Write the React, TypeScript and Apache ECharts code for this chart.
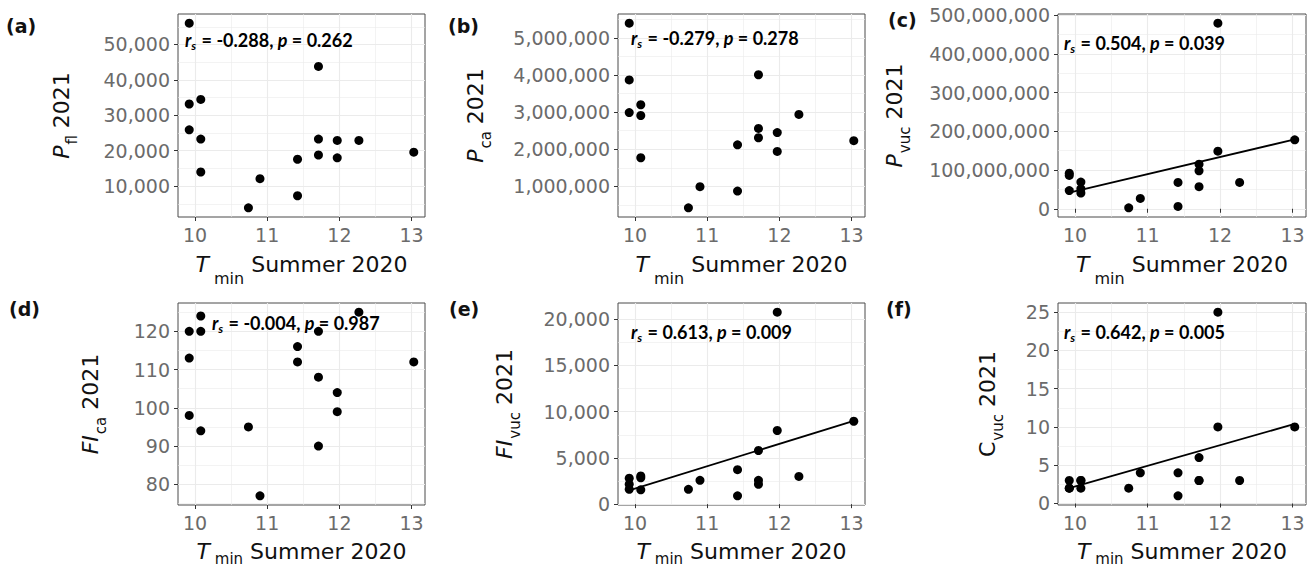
import React, { useEffect, useRef } from "react";
import * as echarts from "echarts";

// ---- data ----
const tmin = [9.92, 9.92, 9.92, 10.08, 10.08, 10.08, 10.74, 10.9, 11.42, 11.42, 11.71, 11.71, 11.71, 11.97, 11.97, 12.27, 13.03];
const pFl = [56000, 33200, 25900, 34500, 23300, 14000, 3900, 12100, 17600, 7300, 43800, 23300, 18800, 22900, 18000, 22900, 19600];
const pCa = [5400000, 3870000, 2990000, 3200000, 2910000, 1770000, 420000, 990000, 2120000, 870000, 4010000, 2560000, 2310000, 2450000, 1940000, 2940000, 2230000];
const pVuc = [92e6, 86e6, 47e6, 69e6, 51.5e6, 40.5e6, 2.6e6, 26.6e6, 68e6, 6e6, 115e6, 98e6, 57e6, 479e6, 148.6e6, 68e6, 178e6];
const fiCa = [120, 113, 98, 124, 120, 94, 95, 77, 116, 112, 120, 108, 90, 104, 99, 125, 112];
const fiVuc = [2800, 2150, 1600, 3050, 2850, 1550, 1600, 2580, 3730, 900, 5800, 2580, 2150, 20750, 7960, 3000, 8960];
const cVuc = [3, 2, 2, 3, 3, 2, 2, 4, 4, 1, 6, 3, 3, 25, 10, 3, 10];

const trendX = [9.92, 13.03];
const trendPVuc = [42e6, 179e6];
const trendFiVuc = [1500, 9000];
const trendCVuc = [2.0, 10.4];

const xTicks = [10, 11, 12, 13];
const xMinorTicks = [10.5, 11.5, 12.5];

const yTicksPFl = [10000, 20000, 30000, 40000, 50000];
const yMinorPFl = [5000, 15000, 25000, 35000, 45000, 55000];
const yTicksPCa = [1000000, 2000000, 3000000, 4000000, 5000000];
const yMinorPCa = [500000, 1500000, 2500000, 3500000, 4500000, 5500000];
const yTicksPVuc = [0, 100000000, 200000000, 300000000, 400000000, 500000000];
const yMinorPVuc = [50000000, 150000000, 250000000, 350000000, 450000000];
const yTicksFiCa = [80, 90, 100, 110, 120];
const yMinorFiCa = [75, 85, 95, 105, 115, 125];
const yTicksFiVuc = [0, 5000, 10000, 15000, 20000];
const yMinorFiVuc = [2500, 7500, 12500, 17500];
const yTicksCVuc = [0, 5, 10, 15, 20, 25];
const yMinorCVuc = [2.5, 7.5, 12.5, 17.5, 22.5];

const panelLabels = ["(a)", "(b)", "(c)", "(d)", "(e)", "(f)"];
const yTitles = [
  "{it|P}{sub|fl}{n| 2021}",
  "{it|P}{sub|ca}{n| 2021}",
  "{it|P}{sub|vuc}{n| 2021}",
  "{it|FI}{sub|ca}{n| 2021}",
  "{it|FI}{sub|vuc}{n| 2021}",
  "{n|C}{sub|vuc}{n| 2021}",
];
const xTitle = "{it|T}{sub| min}{n| Summer 2020}";
const rsValues = ["-0.288", "-0.279", "0.504", "-0.004", "0.613", "0.642"];
const pValues = ["0.262", "0.278", "0.039", "0.987", "0.009", "0.005"];

// ---- layout ----
const panels = [
  { y: pFl, ticks: yTicksPFl, minor: yMinorPFl, trend: null as number[] | null, grid: [178, 14, 247, 203], gap: 106, lab: [6, 26], ann: [185, 40], row: 0 },
  { y: pCa, ticks: yTicksPCa, minor: yMinorPCa, trend: null, grid: [618, 14, 247, 203], gap: 132, lab: [448, 26], ann: [631, 38], row: 0 },
  { y: pVuc, ticks: yTicksPVuc, minor: yMinorPVuc, trend: trendPVuc, grid: [1058, 14, 248, 203], gap: 153, lab: [888, 20], ann: [1064, 43], row: 0 },
  { y: fiCa, ticks: yTicksFiCa, minor: yMinorFiCa, trend: null, grid: [178, 303, 247, 202], gap: 77, lab: [9, 309], ann: [212, 323], row: 1 },
  { y: fiVuc, ticks: yTicksFiVuc, minor: yMinorFiVuc, trend: trendFiVuc, grid: [618, 303, 247, 202], gap: 103, lab: [449, 309], ann: [631, 332], row: 1 },
  { y: cVuc, ticks: yTicksCVuc, minor: yMinorCVuc, trend: trendCVuc, grid: [1058, 303, 248, 202], gap: 60, lab: [886, 309], ann: [1064, 332], row: 1 },
];

const FONT = "'DejaVu Sans', 'Liberation Sans', Arial, sans-serif";
const LABEL_COLOR = "#6b6b6b";
const GRID_COLOR = "#EBEBEB";

function expand(arr: number[]): [number, number] {
  const lo = Math.min(...arr);
  const hi = Math.max(...arr);
  const r = hi - lo;
  return [lo - 0.05 * r, hi + 0.05 * r];
}

const titleRichY = {
  it: { fontFamily: FONT, fontSize: 22, fontStyle: "italic", lineHeight: 22, verticalAlign: "top", color: "#111" },
  n: { fontFamily: FONT, fontSize: 22, lineHeight: 22, verticalAlign: "top", color: "#111" },
  sub: { fontFamily: FONT, fontSize: 15, lineHeight: 15, padding: [14, 0, 0, 1], verticalAlign: "top", color: "#111" },
};
const titleRichXTop = {
  it: titleRichY.it,
  n: titleRichY.n,
  sub: { fontFamily: FONT, fontSize: 16, lineHeight: 16, padding: [17, 0, 0, 0], verticalAlign: "top", color: "#111" },
};
const titleRichXBottom = {
  it: titleRichY.it,
  n: titleRichY.n,
  sub: { fontFamily: FONT, fontSize: 15, lineHeight: 14, padding: [11, 0, 0, 0], verticalAlign: "top", color: "#111" },
};

function buildOption() {
  const xr = expand(tmin);
  const grid: any[] = [];
  const xAxis: any[] = [];
  const yAxis: any[] = [];
  const series: any[] = [];
  const graphic: any[] = [];

  panels.forEach((p, i) => {
    const [left, top, width, height] = p.grid;
    grid.push({
      left, top, width, height, show: true, borderColor: "#4a4a4a", borderWidth: 1, backgroundColor: "#fff",
      containLabel: false, outerBoundsMode: "none",
    });
    const yr = expand(p.trend ? p.y.concat(p.trend) : p.y);

    xAxis.push({
      gridIndex: i, type: "value", min: xr[0], max: xr[1], position: "bottom",
      axisLine: { show: false },
      axisTick: { show: true, length: 4, lineStyle: { color: "#333", width: 1 }, customValues: xTicks },
      axisLabel: { customValues: xTicks, color: LABEL_COLOR, fontSize: 19, fontFamily: FONT, margin: 8 },
      splitLine: { show: true, lineStyle: { color: GRID_COLOR, width: 1.1 } },
      name: xTitle, nameLocation: "middle", nameGap: p.row === 0 ? 36 : 35, nameMoveOverlap: false,
      nameTextStyle: { fontFamily: FONT, fontSize: 22, color: "#111", rich: p.row === 0 ? titleRichXTop : titleRichXBottom },
    });
    xAxis.push({
      gridIndex: i, type: "value", min: xr[0], max: xr[1], position: "top",
      axisLine: { show: false }, axisLabel: { show: false },
      axisTick: { show: false, customValues: xMinorTicks },
      splitLine: { show: true, lineStyle: { color: GRID_COLOR, width: 0.6 } },
    });
    yAxis.push({
      gridIndex: i, type: "value", min: yr[0], max: yr[1], position: "left",
      axisLine: { show: false },
      axisTick: { show: true, length: 4, lineStyle: { color: "#333", width: 1 }, customValues: p.ticks },
      axisLabel: {
        customValues: p.ticks, color: LABEL_COLOR, fontSize: 19, fontFamily: FONT, margin: 8,
        formatter: (v: number) => Math.round(v).toLocaleString("en-US"),
      },
      splitLine: { show: true, lineStyle: { color: GRID_COLOR, width: 1.1 } },
      name: yTitles[i], nameLocation: "middle", nameGap: p.gap, nameRotate: 90, nameMoveOverlap: false,
      nameTextStyle: { fontFamily: FONT, fontSize: 22, color: "#111", rich: titleRichY },
    });
    yAxis.push({
      gridIndex: i, type: "value", min: yr[0], max: yr[1], position: "right",
      axisLine: { show: false }, axisLabel: { show: false },
      axisTick: { show: false, customValues: p.minor },
      splitLine: { show: true, lineStyle: { color: GRID_COLOR, width: 0.6 } },
    });

    series.push({
      type: "scatter", xAxisIndex: 2 * i, yAxisIndex: 2 * i,
      data: tmin.map((x, k) => [x, p.y[k]]),
      symbolSize: 9, itemStyle: { color: "#000", opacity: 1 }, z: 3,
    });
    if (p.trend) {
      series.push({
        type: "line", xAxisIndex: 2 * i, yAxisIndex: 2 * i,
        data: trendX.map((x, k) => [x, (p.trend as number[])[k]]),
        showSymbol: false, symbol: "none", lineStyle: { color: "#000", width: 1.8 }, z: 4,
      });
    }

    graphic.push({
      type: "text", x: p.lab[0], y: p.lab[1], z: 10,
      style: { text: panelLabels[i], font: `bold 19px ${FONT}`, fill: "#111", verticalAlign: "middle", align: "left" },
    });
    graphic.push({
      type: "text", x: p.ann[0], y: p.ann[1], z: 10,
      style: {
        text: `{ri|r}{rs|s}{b| = ${rsValues[i]}, }{ri|p}{b| = ${pValues[i]}}`,
        verticalAlign: "middle", align: "left",
        rich: {
          ri: { fontFamily: "Lato", fontWeight: "bold", fontStyle: "italic", fontSize: 18, lineHeight: 19, verticalAlign: "top", fill: "#000" },
          b: { fontFamily: "Lato", fontWeight: "bold", fontSize: 18, lineHeight: 19, verticalAlign: "top", fill: "#000" },
          rs: { fontFamily: "Lato", fontWeight: "bold", fontStyle: "italic", fontSize: 12, lineHeight: 12, padding: [9, 1, 0, 0], verticalAlign: "top", fill: "#000" },
        },
      },
    });
  });

  return { animation: false, backgroundColor: "#fff", grid, xAxis, yAxis, series, graphic };
}

export default function App() {
  const ref = useRef<HTMLDivElement>(null);
  useEffect(() => {
    if (!ref.current) return;
    const chart = echarts.init(ref.current, undefined, { renderer: "svg" });
    chart.setOption(buildOption() as any);
    return () => chart.dispose();
  }, []);
  return <div ref={ref} style={{ position: "absolute", left: 0, top: 0, width: 1310, height: 566, background: "#fff" }} />;
}
